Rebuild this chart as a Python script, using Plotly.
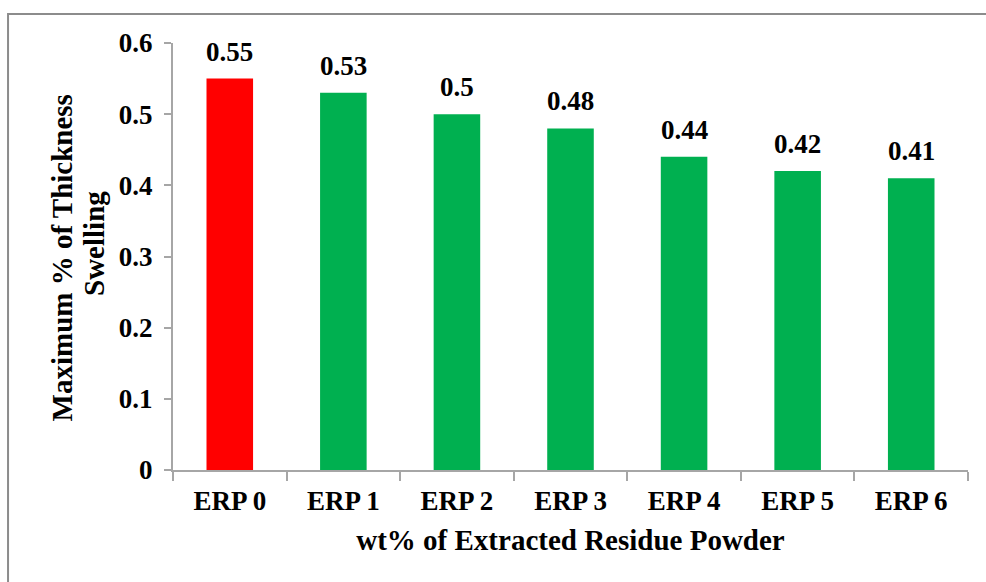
import plotly.graph_objects as go

# Thickness swelling per formulation
categories = ["ERP 0", "ERP 1", "ERP 2", "ERP 3", "ERP 4", "ERP 5", "ERP 6"]
swelling = [0.55, 0.53, 0.5, 0.48, 0.44, 0.42, 0.41]
bar_colors = ["#FF0000", "#00B050", "#00B050", "#00B050", "#00B050", "#00B050", "#00B050"]
y_ticks = [0, 0.1, 0.2, 0.3, 0.4, 0.5, 0.6]
y_tick_text = ["0", "0.1", "0.2", "0.3", "0.4", "0.5", "0.6"]
y_title_lines = ["Maximum % of Thickness", "Swelling"]

FONT = "Liberation Serif"
AXIS_GRAY = "#A6A6A6"
TICK_SIZE = 27
TITLE_SIZE = 29

fig = go.Figure(
    go.Bar(
        x=categories,
        y=swelling,
        marker=dict(color=bar_colors, line=dict(width=0)),
        width=0.41,
    )
)

# value labels above each bar
for cat, val in zip(categories, swelling):
    fig.add_annotation(
        x=cat,
        y=val,
        text=f"{val:g}",
        showarrow=False,
        yanchor="bottom",
        yshift=10,
        font=dict(family=FONT, size=TICK_SIZE, color="black", weight=700),
    )

# rotated two-line y-axis title (tighter line spacing than the built-in title)
for line, (px, py) in zip(y_title_lines, [(-0.1384, 0.4977), (-0.0994, 0.5316)]):
    fig.add_annotation(
        xref="paper",
        yref="paper",
        x=px,
        y=py,
        text=line,
        textangle=-90,
        showarrow=False,
        xanchor="center",
        yanchor="middle",
        font=dict(family=FONT, size=TITLE_SIZE, color="black", weight=700),
    )

fig.update_layout(
    width=986,
    height=582,
    margin=dict(l=173, r=18, t=43, b=112),
    paper_bgcolor="white",
    plot_bgcolor="white",
    showlegend=False,
    font=dict(family=FONT, color="black"),
    xaxis=dict(
        showgrid=False,
        showline=True,
        linecolor=AXIS_GRAY,
        linewidth=2,
        ticks="outside",
        ticklen=9,
        tickwidth=2,
        tickcolor=AXIS_GRAY,
        tickson="boundaries",
        ticklabelstandoff=6,
        tickfont=dict(family=FONT, size=TICK_SIZE, color="black", weight=700),
        title=dict(
            text="wt% of Extracted Residue Powder",
            font=dict(family=FONT, size=TITLE_SIZE, color="black", weight=700),
            standoff=14,
        ),
    ),
    yaxis=dict(
        range=[0, 0.6],
        tickvals=y_ticks,
        ticktext=y_tick_text,
        showgrid=False,
        zeroline=False,
        showline=True,
        linecolor=AXIS_GRAY,
        linewidth=2,
        ticks="outside",
        ticklen=7,
        tickwidth=2,
        tickcolor=AXIS_GRAY,
        ticklabelstandoff=6,
        tickfont=dict(family=FONT, size=TICK_SIZE, color="black", weight=700),
    ),
    shapes=[
        dict(
            type="rect",
            xref="paper",
            yref="paper",
            x0=-0.2075,
            x1=1.04,
            y0=-0.3,
            y1=1.068,
            line=dict(color="#8C8C8C", width=2),
            fillcolor="rgba(0,0,0,0)",
            layer="below",
        )
    ],
)

fig.write_html("out.html")
